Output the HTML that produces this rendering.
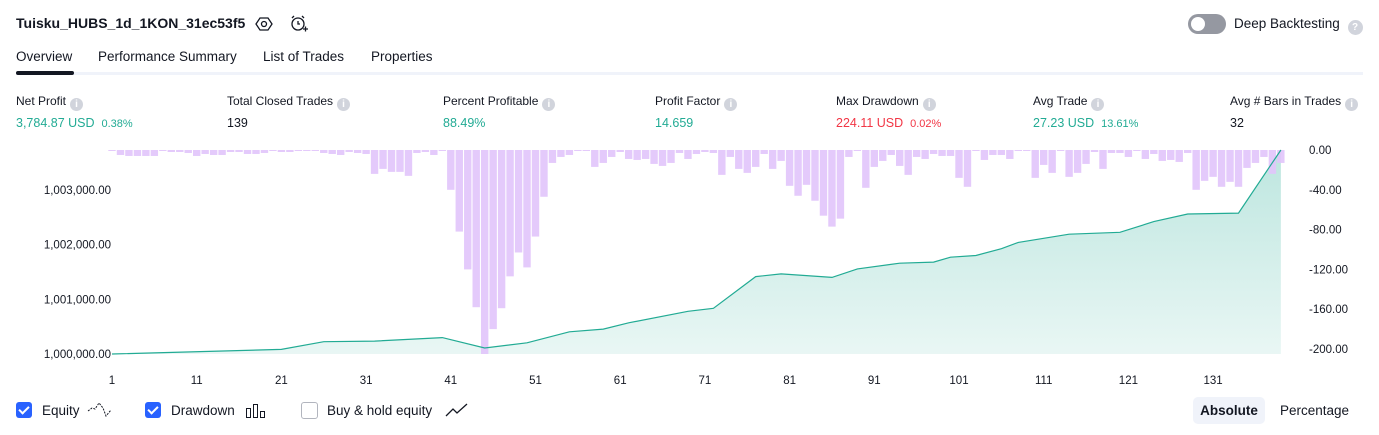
<!DOCTYPE html>
<html><head><meta charset="utf-8">
<style>
body{margin:0;width:1379px;height:435px;background:#fff;font-family:"Liberation Sans",sans-serif;color:#131722;position:relative;overflow:hidden}
.abs{position:absolute;white-space:nowrap}
.lbl{font-size:12px;color:#131722}
.val{font-size:12.5px}
.g{color:#22ab94}.r{color:#f23645}
.small{font-size:11px}
.info{display:inline-block;width:13px;height:13px;border-radius:50%;background:#d1d4dc;color:#fff;font-size:10px;text-align:center;line-height:13px;vertical-align:-2px;margin-left:4px;font-weight:bold}
.tab{font-size:13.5px;top:49px}
.cb{position:absolute;top:402px;width:16px;height:16px;border-radius:3px;background:#2962ff}
.cb::after{content:"";position:absolute;left:5px;top:2px;width:4px;height:8px;border:solid #fff;border-width:0 2px 2px 0;transform:rotate(45deg)}
.leg{font-size:13.5px;top:403px}
</style></head><body>
<div class="abs" style="left:16px;top:15px;font-size:14px;font-weight:bold">Tuisku_HUBS_1d_1KON_31ec53f5</div>
<svg class="abs" style="left:255px;top:15px" width="18" height="18"><polygon points="5,3 13,3 17,9 13,15 5,15 1,9" fill="none" stroke="#131722" stroke-width="1.3"/><circle cx="9" cy="9" r="2.5" fill="none" stroke="#131722" stroke-width="1.3"/></svg>
<svg class="abs" style="left:289px;top:14px" width="20" height="20"><circle cx="9" cy="10" r="6" fill="none" stroke="#131722" stroke-width="1.3"/><path d="M9 7v3h2M3 4l2-2M15 4l-2-2M14 15h5M16.5 12.5v5" stroke="#131722" stroke-width="1.3" fill="none"/></svg>
<div class="abs" style="left:1188px;top:14px;width:38px;height:20px;border-radius:10px;background:#9598a1"><div style="position:absolute;left:3px;top:3px;width:14px;height:14px;border-radius:50%;background:#fff"></div></div>
<div class="abs" style="left:1234px;top:16px;font-size:13.5px">Deep Backtesting <span class="info" style="width:15px;height:15px;line-height:15px">?</span></div>

<div class="abs tab" style="left:16px">Overview</div>
<div class="abs tab" style="left:98px">Performance Summary</div>
<div class="abs tab" style="left:263px">List of Trades</div>
<div class="abs tab" style="left:371px">Properties</div>
<div class="abs" style="left:16px;top:72px;width:1347px;height:3px;background:#f0f3fa"></div>
<div class="abs" style="left:16px;top:71px;width:58px;height:4px;border-radius:2px;background:#131722"></div>

<div class="abs" style="left:16px;top:94px"><div class="lbl">Net Profit<span class="info">i</span></div><div class="val g" style="margin-top:5px">3,784.87 USD&nbsp; <span class="small">0.38%</span></div></div>
<div class="abs" style="left:227px;top:94px"><div class="lbl">Total Closed Trades<span class="info">i</span></div><div class="val" style="margin-top:5px">139</div></div>
<div class="abs" style="left:443px;top:94px"><div class="lbl">Percent Profitable<span class="info">i</span></div><div class="val g" style="margin-top:5px">88.49%</div></div>
<div class="abs" style="left:655px;top:94px"><div class="lbl">Profit Factor<span class="info">i</span></div><div class="val g" style="margin-top:5px">14.659</div></div>
<div class="abs" style="left:836px;top:94px"><div class="lbl">Max Drawdown<span class="info">i</span></div><div class="val r" style="margin-top:5px">224.11 USD&nbsp; <span class="small">0.02%</span></div></div>
<div class="abs" style="left:1033px;top:94px"><div class="lbl">Avg Trade<span class="info">i</span></div><div class="val g" style="margin-top:5px">27.23 USD&nbsp; <span class="small">13.61%</span></div></div>
<div class="abs" style="left:1230px;top:94px"><div class="lbl">Avg # Bars in Trades<span class="info">i</span></div><div class="val" style="margin-top:5px">32</div></div>

<svg id="chart" class="abs" style="left:0;top:0" width="1379" height="395">
<defs><linearGradient id="gf" x1="0" y1="0" x2="0" y2="1"><stop offset="0" stop-color="#22ab94" stop-opacity="0.3"/><stop offset="1" stop-color="#22ab94" stop-opacity="0.1"/></linearGradient></defs>
</svg>

<div class="cb" style="left:16px"></div>
<div class="abs leg" style="left:42px">Equity</div>
<svg class="abs" style="left:87px;top:401px" width="26" height="18"><path d="M1 10l4-3 3 1 4-6 4 5 3 8 5-6" fill="none" stroke="#131722" stroke-dasharray="2,1.2"/></svg>
<div class="cb" style="left:145px"></div>
<div class="abs leg" style="left:171px">Drawdown</div>
<svg class="abs" style="left:245px;top:402px" width="22" height="18"><rect x="1.5" y="6.5" width="4" height="9" fill="none" stroke="#131722"/><rect x="8.5" y="2.5" width="4" height="13" fill="none" stroke="#131722"/><rect x="15.5" y="9.5" width="4" height="6" fill="none" stroke="#131722"/></svg>
<div class="abs" style="left:301px;top:402px;width:15px;height:15px;border:1px solid #b2b5be;border-radius:3px"></div>
<div class="abs leg" style="left:327px">Buy &amp; hold equity</div>
<svg class="abs" style="left:445px;top:402px" width="24" height="16"><path d="M1 14l7-7 4 4 10-9" fill="none" stroke="#131722" stroke-width="1.3"/></svg>
<div class="abs" style="left:1193px;top:397px;width:72px;height:27px;background:#f0f3fa;border-radius:5px;font-size:13.5px;font-weight:bold;line-height:27px;text-align:center">Absolute</div>
<div class="abs" style="left:1280px;top:403px;font-size:13.5px">Percentage</div>

<script>
const drawdown=[1,5,6,6,6,6,1,2,2,3,6,4,5,5,2,2,4,4,3,1,2,2,1,1,1,3,4,5,2,3,4,24,19,22,22,26,3,2,5,1,40,82,120,158,205,180,159,127,103,118,87,47,13,7,5,1,1,17,13,7,2,9,10,9,14,16,13,3,9,4,2,3,25,7,19,23,17,4,19,11,36,46,35,51,66,77,69,7,1,38,17,11,5,16,25,7,9,4,6,6,28,37,1,10,5,5,9,1,1,28,15,23,1,27,23,14,2,19,3,3,7,1,9,4,11,10,12,3,40,31,27,37,32,37,18,13,7,24,13];
const eqTrades=[1,21,26,32,40,45,50,55,59,62,69,72,77,80,86,89,94,98,100,103,106,108,114,120,124,128,134,139,139];
const eqValues=[0,85,225,235,300,110,205,405,455,570,780,835,1415,1465,1400,1555,1660,1680,1770,1800,1925,2040,2190,2225,2420,2560,2575,3730,3730];
const eqTicks=[1000000,1001000,1002000,1003000];
const ddTicks=[0,-40,-80,-120,-160,-200];
const xTicks=[1,11,21,31,41,51,61,71,81,91,101,111,121,131];
const NS="http://www.w3.org/2000/svg";
const svg=document.getElementById('chart');
const X=i=>112+(i-1)*8.47;
const YE=v=>354-(v-1000000)*0.0547;
const YD=v=>150+Math.abs(v)*0.995;
function mk(t,a){const e=document.createElementNS(NS,t);for(const k in a)e.setAttribute(k,a[k]);svg.appendChild(e);return e;}
let pts=eqTrades.map((t,i)=>X(t).toFixed(1)+','+YE(1000000+eqValues[i]).toFixed(1));
let area=mk('path',{d:'M'+X(1)+',354 L'+pts.join(' L')+' L'+X(eqTrades[eqTrades.length-1])+',354 Z',fill:'url(#gf)'});


drawdown.forEach((v,i)=>{
 const r=mk('rect',{x:X(i+1)-3.7,y:150,width:7.4,height:Math.max(0.8,YD(v)-150),fill:'#e1c4fb',opacity:'0.9'});
 
 
});
let line=mk('polyline',{points:pts.join(' '),fill:'none',stroke:'#22ab94','stroke-width':1.2});


eqTicks.forEach(v=>{const t=mk('text',{x:111,y:YE(v)+4,'text-anchor':'end','font-size':11.5,fill:'#131722'});t.textContent=v.toLocaleString('en-US',{minimumFractionDigits:2});

});
ddTicks.forEach(v=>{const t=mk('text',{x:1309,y:YD(v)+4,'font-size':11.5,fill:'#131722'});t.textContent=v.toFixed(2);

});
xTicks.forEach(v=>{const t=mk('text',{x:X(v),y:384,'text-anchor':'middle','font-size':11.5,fill:'#131722'});t.textContent=v;

});
</script>
</body></html>
